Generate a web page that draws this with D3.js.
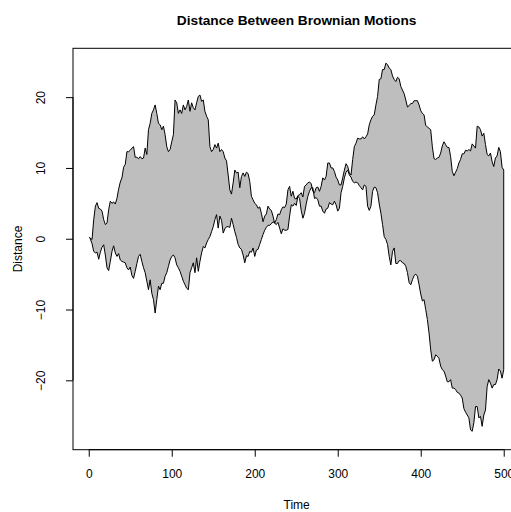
<!DOCTYPE html>
<html>
<head>
<meta charset="utf-8">
<script src="https://cdn.jsdelivr.net/npm/d3@7"></script>
<style>
  body { margin: 0; background: #fff; }
  svg { display: block; }
  text { font-family: "Liberation Sans", Arial, Helvetica, sans-serif; fill: #000; }
</style>
</head>
<body>
<svg id="chart" width="511" height="512"></svg>
<script>
// Time steps at which both motions are sampled
const time = [
  1, 2, 4, 6, 8, 10, 12, 14, 16, 18,
  20, 22, 24, 26, 28, 30, 32, 34, 36, 38,
  40, 42, 44, 46, 48, 50, 52, 54, 56, 58,
  60, 62, 64, 66, 68, 70, 72, 74, 76, 78,
  80, 82, 84, 86, 88, 90, 92, 94, 96, 98,
  100, 102, 104, 106, 108, 110, 112, 114, 116, 118,
  120, 122, 124, 126, 128, 130, 132, 134, 136, 138,
  140, 142, 144, 146, 148, 150, 152, 154, 156, 158,
  160, 162, 164, 166, 168, 170, 172, 174, 176, 178,
  180, 182, 184, 186, 188, 190, 192, 194, 196, 198,
  200, 202, 204, 206, 208, 210, 212, 214, 216, 218,
  220, 222, 224, 226, 228, 230, 232, 234, 236, 238,
  240, 242, 244, 246, 248, 250, 252, 254, 256, 258,
  260, 262, 264, 266, 268, 270, 272, 274, 276, 278,
  280, 282, 284, 286, 288, 290, 292, 294, 296, 298,
  300, 302, 304, 306, 308, 310, 312, 314, 316, 318,
  320, 322, 324, 326, 328, 330, 332, 334, 336, 338,
  340, 342, 344, 346, 348, 350, 352, 354, 356, 358,
  360, 362, 364, 366, 368, 370, 372, 374, 376, 378,
  380, 382, 384, 386, 388, 390, 392, 394, 396, 398,
  400, 402, 404, 406, 408, 410, 412, 414, 416, 418,
  420, 422, 424, 426, 428, 430, 432, 434, 436, 438,
  440, 442, 444, 446, 448, 450, 452, 454, 456, 458,
  460, 462, 464, 466, 468, 470, 472, 474, 476, 478,
  480, 482, 484, 486, 488, 490, 492, 494, 496, 498,
  500];

// First Brownian motion
const motionA = [
  0.2, 0.05, -0.1, 2.7, 4.6, 5.1, 4.3, 4.2, 3.9, 2.7,
  2.0, 2.2, 4.1, 5.3, 5.0, 5.2, 4.9, 5.7, 7.0, 8.0,
  8.6, 10.1, 10.5, 12.3, 12.3, 12.5, 12.8, 13.0, 11.5, 11.5,
  11.3, 11.6, 11.3, 11.4, 12.8, 11.9, 15.4, 16.3, 17.7, 18.2,
  18.9, 17.7, 16.3, 16.1, 15.4, 15.9, 14.7, 13.0, 12.3, 12.6,
  13.7, 14.7, 19.6, 19.2, 17.7, 18.2, 17.7, 18.9, 18.2, 18.7,
  19.6, 18.0, 19.2, 18.5, 18.2, 19.2, 20.1, 20.3, 19.4, 19.6,
  18.0, 17.3, 16.8, 13.0, 12.3, 12.6, 13.3, 12.8, 13.5, 12.3,
  12.6, 12.3, 11.4, 11.0, 9.0, 6.9, 6.3, 7.9, 9.7, 9.3,
  9.4, 7.2, 8.8, 9.3, 8.8, 9.4, 9.2, 8.1, 6.0, 5.5,
  5.0, 4.8, 4.3, 4.5, 3.6, 2.4, 3.2, 3.5, 4.6, 4.2,
  4.0, 3.2, 2.2, 2.7, 3.5, 3.4, 4.1, 4.5, 4.4, 4.9,
  6.9, 7.4, 6.0, 6.7, 5.7, 5.6, 6.1, 6.2, 6.5, 5.9,
  7.4, 7.6, 7.9, 8.0, 7.8, 6.7, 6.5, 7.2, 7.3, 6.7,
  7.4, 8.6, 8.3, 8.8, 10.7, 10.7, 10.0, 10.0, 9.5, 8.7,
  8.3, 7.6, 7.6, 8.6, 9.7, 10.6, 10.2, 9.3, 9.0, 11.2,
  13.0, 13.5, 14.2, 14.1, 14.1, 14.4, 14.1, 14.4, 14.8, 16.1,
  16.8, 17.3, 17.5, 18.9, 20.1, 22.5, 22.6, 23.9, 23.9, 24.8,
  24.6, 24.1, 23.9, 23.0, 22.5, 22.2, 22.8, 22.6, 21.5, 21.0,
  20.5, 19.6, 18.6, 18.8, 19.1, 19.1, 19.5, 19.5, 19.5, 18.9,
  18.1, 17.7, 17.5, 16.0, 15.8, 15.6, 15.4, 13.0, 11.3, 11.2,
  11.4, 11.5, 12.1, 13.1, 13.7, 13.3, 12.9, 12.9, 11.6, 9.5,
  8.9, 9.4, 9.9, 10.7, 11.2, 12.0, 12.0, 12.5, 12.4, 12.6,
  12.4, 13.4, 13.1, 12.8, 15.9, 15.8, 15.4, 14.5, 14.9, 13.3,
  11.9, 11.7, 12.1, 10.9, 10.2, 11.4, 11.7, 12.9, 12.3, 10.1,
  9.7];

// Second Brownian motion
const motionB = [
  0.2, -0.05, -0.7, -1.8, -2.0, -1.9, -2.9, -1.9, -1.2, -0.85,
  -2.3, -4.1, -4.5, -3.2, -1.8, -1.0, -2.0, -2.5, -2.1, -3.0,
  -3.2, -3.3, -3.4, -4.1, -4.4, -4.0, -5.2, -5.6, -4.6, -3.5,
  -2.5, -2.2, -3.2, -4.1, -4.8, -6.0, -7.2, -5.8, -7.7, -8.6,
  -10.5, -8.6, -6.7, -7.2, -6.3, -6.3, -5.3, -4.8, -3.9, -3.0,
  -2.5, -2.3, -2.7, -3.7, -4.1, -4.6, -5.3, -6.0, -6.5, -7.0,
  -7.2, -4.8, -4.1, -3.4, -4.8, -2.7, -4.6, -3.2, -2.0, -1.1,
  -1.3, -0.6, -0.1, 0.3, 1.0, 1.7, 2.7, 3.4, 1.5, 3.2,
  2.6, 0.8, 1.4, 1.7, 1.7, 1.6, 2.9, 2.0, 1.0, 0.2,
  -0.8, -1.3, -1.5, -2.3, -3.4, -2.4, -2.5, -1.8, -1.9, -1.3,
  -2.5, -1.6, -1.5, -0.8, -0.1, 0.6, 1.2, 1.6, 1.9, 1.9,
  2.1, 2.4, 2.2, 2.0, 2.3, 1.5, 0.7, 1.4, 1.2, 1.2,
  1.3, 3.2, 4.8, 4.6, 5.0, 4.7, 6.0, 5.7, 4.0, 2.9,
  3.6, 4.9, 6.0, 6.7, 7.2, 7.2, 5.7, 5.8, 5.5, 4.6,
  4.6, 3.9, 3.6, 4.2, 4.3, 5.1, 4.9, 4.8, 5.3, 4.8,
  3.9, 4.3, 6.5, 7.4, 8.6, 9.4, 9.7, 9.0, 8.7, 8.1,
  7.9, 8.0, 7.9, 7.5, 7.2, 6.9, 7.6, 7.4, 4.6, 4.0,
  4.6, 6.7, 7.3, 7.2, 6.5, 4.9, 3.6, 2.0, 0.3, -0.1,
  -0.8, -2.5, -3.7, -1.8, -1.3, -3.5, -3.5, -3.1, -3.1, -3.4,
  -3.5, -3.9, -4.8, -6.2, -6.5, -5.8, -5.2, -5.0, -5.3, -6.5,
  -7.8, -8.8, -8.6, -10.0, -11.4, -13.3, -15.7, -17.3, -17.1, -16.4,
  -16.6, -16.9, -18.0, -18.5, -18.7, -19.4, -20.2, -20.2, -19.9, -21.1,
  -21.1, -21.3, -21.7, -21.8, -22.1, -22.5, -24.0, -24.5, -24.9, -25.3,
  -27.0, -27.2, -26.0, -23.7, -23.7, -25.3, -25.1, -26.5, -24.9, -24.2,
  -20.9, -19.9, -20.4, -21.1, -20.6, -20.6, -19.9, -18.4, -18.7, -19.7,
  -18.5];

// Axis limits and tick labels
const xLimits = [-18.96, 519.96];
const yLimits = [-29.8, 26.9];
const xTicks = [0, 100, 200, 300, 400, 500];
const yTicks = [-20, -10, 0, 10, 20];

const plot = { left: 73, right: 520.3, top: 48.3, bottom: 449.7 };

const svg = d3.select("#chart");

const x = d3.scaleLinear().domain(xLimits).range([plot.left, plot.right]);
const y = d3.scaleLinear().domain(yLimits).range([plot.bottom, plot.top]);

// Shaded band between the two motions, outlined in black
const band = time.map((t, i) => [x(t), y(motionA[i])])
  .concat(time.map((t, i) => [x(t), y(motionB[i])]).reverse());

svg.append("path")
  .attr("d", d3.line()(band) + "Z")
  .attr("fill", "#bebebe")
  .attr("stroke", "#000")
  .attr("stroke-width", 1)
  .attr("stroke-linejoin", "round");

// Plot frame
svg.append("rect")
  .attr("x", plot.left)
  .attr("y", plot.top)
  .attr("width", plot.right - plot.left)
  .attr("height", plot.bottom - plot.top)
  .attr("fill", "none")
  .attr("stroke", "#000")
  .attr("stroke-width", 1);

// Bottom axis
const gx = svg.append("g")
  .attr("transform", `translate(0,${plot.bottom})`)
  .call(d3.axisBottom(x).tickValues(xTicks).tickSize(7).tickPadding(13).tickFormat(d3.format("d")));
gx.select(".domain").remove();
gx.append("line")
  .attr("x1", x(xTicks[0])).attr("x2", x(xTicks[xTicks.length - 1]))
  .attr("stroke", "#000");
gx.selectAll(".tick line").attr("stroke", "#000");
gx.selectAll(".tick text").attr("font-size", 12).attr("font-family", null);

// Left axis with labels running along the axis
const gy = svg.append("g")
  .attr("transform", `translate(${plot.left},0)`)
  .call(d3.axisLeft(y).tickValues(yTicks).tickSize(7).tickFormat(d => d < 0 ? "\u2212" + Math.abs(d) : String(d)));
gy.select(".domain").remove();
gy.append("line")
  .attr("y1", y(yTicks[0])).attr("y2", y(yTicks[yTicks.length - 1]))
  .attr("stroke", "#000");
gy.selectAll(".tick line").attr("stroke", "#000");
gy.selectAll(".tick text")
  .attr("font-size", 12)
  .attr("font-family", null)
  .attr("text-anchor", "middle")
  .attr("transform", "rotate(-90)")
  .attr("x", 0)
  .attr("y", -28.5)
  .attr("dy", 0);

// Titles
svg.append("text")
  .attr("x", (plot.left + plot.right) / 2)
  .attr("y", 25)
  .attr("text-anchor", "middle")
  .attr("font-size", 13.7)
  .attr("font-weight", "bold")
  .text("Distance Between Brownian Motions");

svg.append("text")
  .attr("x", (plot.left + plot.right) / 2)
  .attr("y", 509)
  .attr("text-anchor", "middle")
  .attr("font-size", 12)
  .text("Time");

svg.append("text")
  .attr("transform", `translate(22,${(plot.top + plot.bottom) / 2}) rotate(-90)`)
  .attr("text-anchor", "middle")
  .attr("font-size", 12)
  .text("Distance");
</script>
</body>
</html>
